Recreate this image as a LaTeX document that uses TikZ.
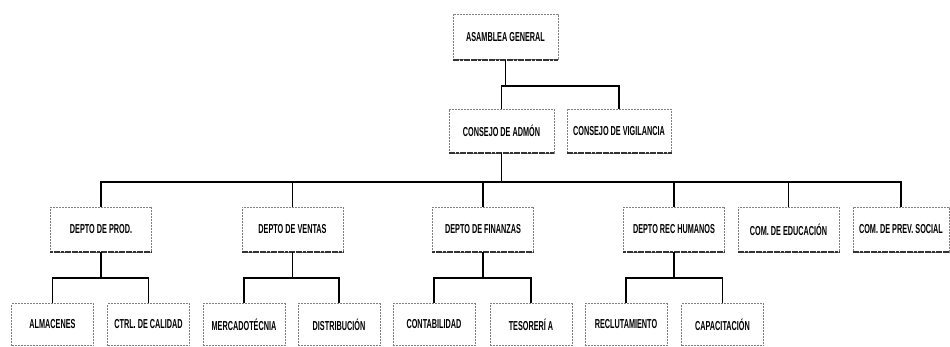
\documentclass[tikz,border=0pt]{standalone}
\usepackage{fontspec}
\setmainfont{Liberation Sans}
\usetikzlibrary{calc}
\tikzset{
  box/.style={draw=black!50, dash pattern=on 2pt off 1pt, line width=0.6pt, fill=white,
    inner sep=0pt, font=\bfseries\fontsize{13}{14}\selectfont},
  w1/.style={minimum width=105pt, minimum height=45pt},
  w2/.style={minimum width=101pt, minimum height=45pt},
  w3/.style={minimum width=82pt, minimum height=42pt},
  shade/.style={black!80, line width=1.6pt, dash pattern=on 3pt off 0.6pt},
  conn/.style={black, line width=1.4pt}
}
\newcommand{\nt}[1]{\scalebox{0.56}[1]{#1}}
\begin{document}
\begin{tikzpicture}[x=1pt,y=-1pt]
\useasboundingbox (0,0) rectangle (950,347);
% level 0
\node[box,w1] (ag) at (505.5,37) {\nt{ASAMBLEA GENERAL}};
% level 1
\node[box,minimum width=105pt,minimum height=44pt] (ca) at (501.5,131) {\nt{CONSEJO DE ADMÓN}};
\node[box,minimum width=104pt,minimum height=44pt] (cv) at (619,131) {\nt{CONSEJO DE VIGILANCIA}};
% level 2
\node[box,w2] (prod) at (101,229.5) {\nt{DEPTO DE PROD.}};
\node[box,w2] (vent) at (292.5,229.5) {\nt{DEPTO DE VENTAS}};
\node[box,w2] (fin) at (483,229.5) {\nt{DEPTO DE FINANZAS}};
\node[box,w2] (rh) at (674,229.5) {\nt{DEPTO REC HUMANOS}};
\node[box,w2] (edu) at (788.5,229.5) {\nt{COM. DE EDUCACIÓN}};
\node[box,minimum width=96pt,minimum height=45pt] (prev) at (901,229.5) {\nt{COM. DE PREV. SOCIAL}};
% level 3
\node[box,w3] (alm) at (52.5,324.5) {\nt{ALMACENES}};
\node[box,w3] (ctrl) at (148.5,324.5) {\nt{CTRL. DE CALIDAD}};
\node[box,w3] (merc) at (244,324.5) {\nt{MERCADOTÉCNIA}};
\node[box,w3] (dist) at (339,324.5) {\nt{DISTRIBUCIÓN}};
\node[box,w3] (cont) at (434,324.5) {\nt{CONTABILIDAD}};
\node[box,w3] (tes) at (531,324.5) {\nt{TESORERÍ A}};
\node[box,w3] (recl) at (626,324.5) {\nt{RECLUTAMIENTO}};
\node[box,w3] (cap) at (722.5,324.5) {\nt{CAPACITACIÓN}};
% shadows on bottom edges
\foreach \n in {ag,ca,cv,prod,vent,fin,rh,edu,prev}
  \draw[shade] (\n.south west) -- (\n.south east);
% bus coordinates
\coordinate (b1) at (0,86);
\coordinate (b2) at (0,182);
\coordinate (b3) at (0,278);
% connectors
\draw[conn] (ag.south) -- (ag.south|-b1);
\draw[conn] (ca.north) -- (ca.north|-b1) -| (cv.north);
\draw[conn] (ca.south) -- (ca.south|-b2);
\draw[conn] (prod.north) -- (prod.north|-b2) -| (prev.north);
\foreach \n in {vent,fin,rh,edu}
  \draw[conn] (\n.north) -- (\n.north|-b2);
\draw[conn] (prod.south) -- (prod.south|-b3);
\draw[conn] (alm.north) -- (alm.north|-b3) -| (ctrl.north);
\draw[conn] (vent.south) -- (vent.south|-b3);
\draw[conn] (merc.north) -- (merc.north|-b3) -| (dist.north);
\draw[conn] (fin.south) -- (fin.south|-b3);
\draw[conn] (cont.north) -- (cont.north|-b3) -| (tes.north);
\draw[conn] (rh.south) -- (rh.south|-b3);
\draw[conn] (recl.north) -- (recl.north|-b3) -| (cap.north);
\end{tikzpicture}
\end{document}
